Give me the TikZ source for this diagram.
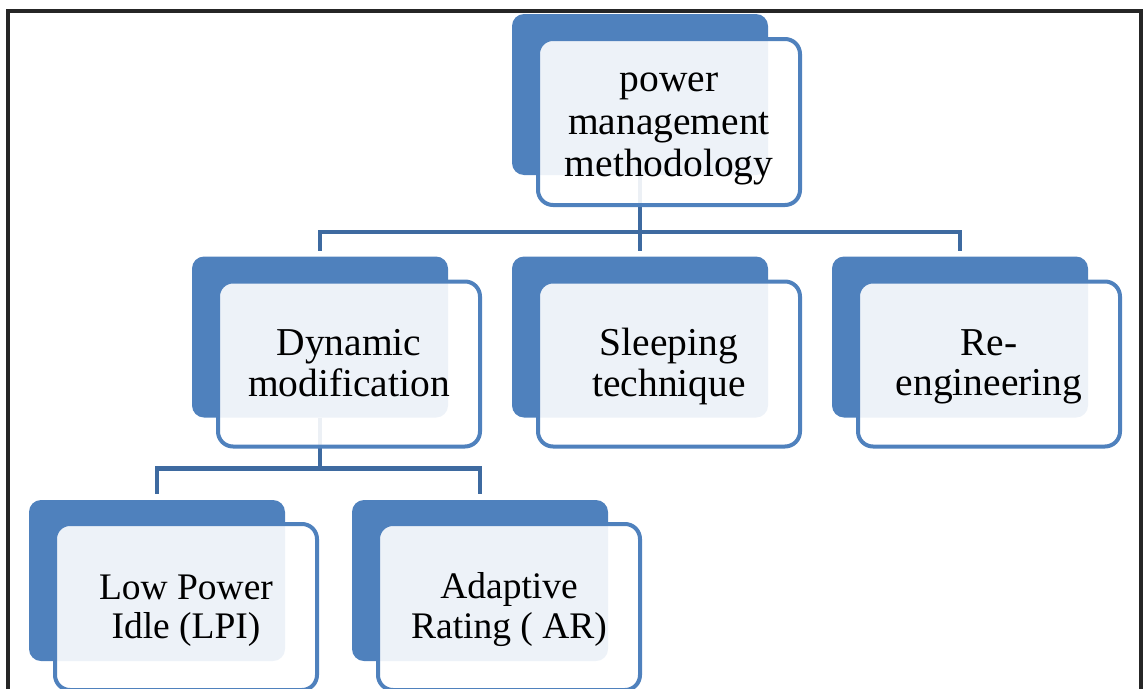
\documentclass[tikz,border=0pt]{standalone}
\usepackage{fontspec}
\setmainfont{Liberation Serif}
\usetikzlibrary{calc}
\definecolor{boxblue}{RGB}{79,129,189}
\definecolor{linkblue}{RGB}{62,106,160}
\definecolor{framegray}{RGB}{38,38,38}
\pgfdeclarelayer{links}
\pgfsetlayers{links,main}
% strut: 0.8 of the line above the baseline, 0.2 below
\newcommand\lstrut{\rule[-0.2\baselineskip]{0pt}{\baselineskip}}

\begin{document}
\begin{tikzpicture}[x=1pt,y=-1pt,
  backbox/.style={fill=boxblue, rounded corners=12pt, minimum width=256pt,
    minimum height=161pt, inner sep=0pt},
  frontbox/.style={draw=boxblue, line width=4pt, fill=white, fill opacity=0.9,
    text opacity=1, rounded corners=15pt, minimum width=262pt,
    minimum height=165pt, inner sep=0pt, align=center, text=black},
  toptext/.style={font=\fontsize{39.5}{41}\selectfont},
  midtext/.style={font=\fontsize{39.5}{40}\selectfont},
  lowtext/.style={font=\fontsize{37.5}{39}\selectfont},
  link/.style={draw=linkblue, line width=4.5pt}]

\useasboundingbox (0,0) rectangle (1143,688);
\clip (0,0) rectangle (1143,688);

% outer frame
\draw[framegray, line width=4pt] (7.5,11) rectangle (1140.5,760);

% root
\node[backbox] (topB) at (640,94.5) {};
\node[frontbox, minimum height=166pt, toptext] (top) at (669,122)
  {\lstrut power\\\lstrut management\\\lstrut methodology};

% second level
\node[backbox] (dynB) at (320,337) {};
\node[frontbox, midtext] (dyn) at (349,364)
  {\lstrut Dynamic\\\lstrut modification};

\node[backbox] (sleepB) at (640,337) {};
\node[frontbox, midtext] (sleep) at (669,364)
  {\lstrut Sleeping\\\lstrut technique};

\node[backbox] (reB) at (960,337) {};
\node[frontbox, midtext] (re) at (989,364)
  {\lstrut Re-\\\lstrut engineering};

% third level
\node[backbox] (lpiB) at (157,580.5) {};
\node[frontbox, minimum height=166pt, lowtext] (lpi) at (186,607)
  {\lstrut Low Power\hspace{6pt}\\\lstrut Idle (LPI)\hspace{6pt}};

\node[backbox] (arB) at (480,580.5) {};
\node[frontbox, minimum height=166pt, lowtext] (ar) at (509,607)
  {\lstrut Adaptive\\\lstrut Rating ( AR)};

% connectors, kept behind the boxes
\begin{pgfonlayer}{links}
  \coordinate (j1) at ($(topB.south)+(0,57)$);
  \draw[link] (topB.south) -- (j1);
  \draw[link] (j1) -| ($(dynB.north)+(0,-5)$);
  \draw[link] (j1) -| ($(reB.north)+(0,-5)$);
  \draw[link] (j1) -- ($(sleepB.north)+(0,-5)$);

  \coordinate (j2) at ($(dynB.south)+(0,51)$);
  \draw[link] (dynB.south) -- (j2);
  \draw[link] (j2) -| ($(lpiB.north)+(0,-6)$);
  \draw[link] (j2) -| ($(arB.north)+(0,-6)$);
\end{pgfonlayer}
\end{tikzpicture}
\end{document}
